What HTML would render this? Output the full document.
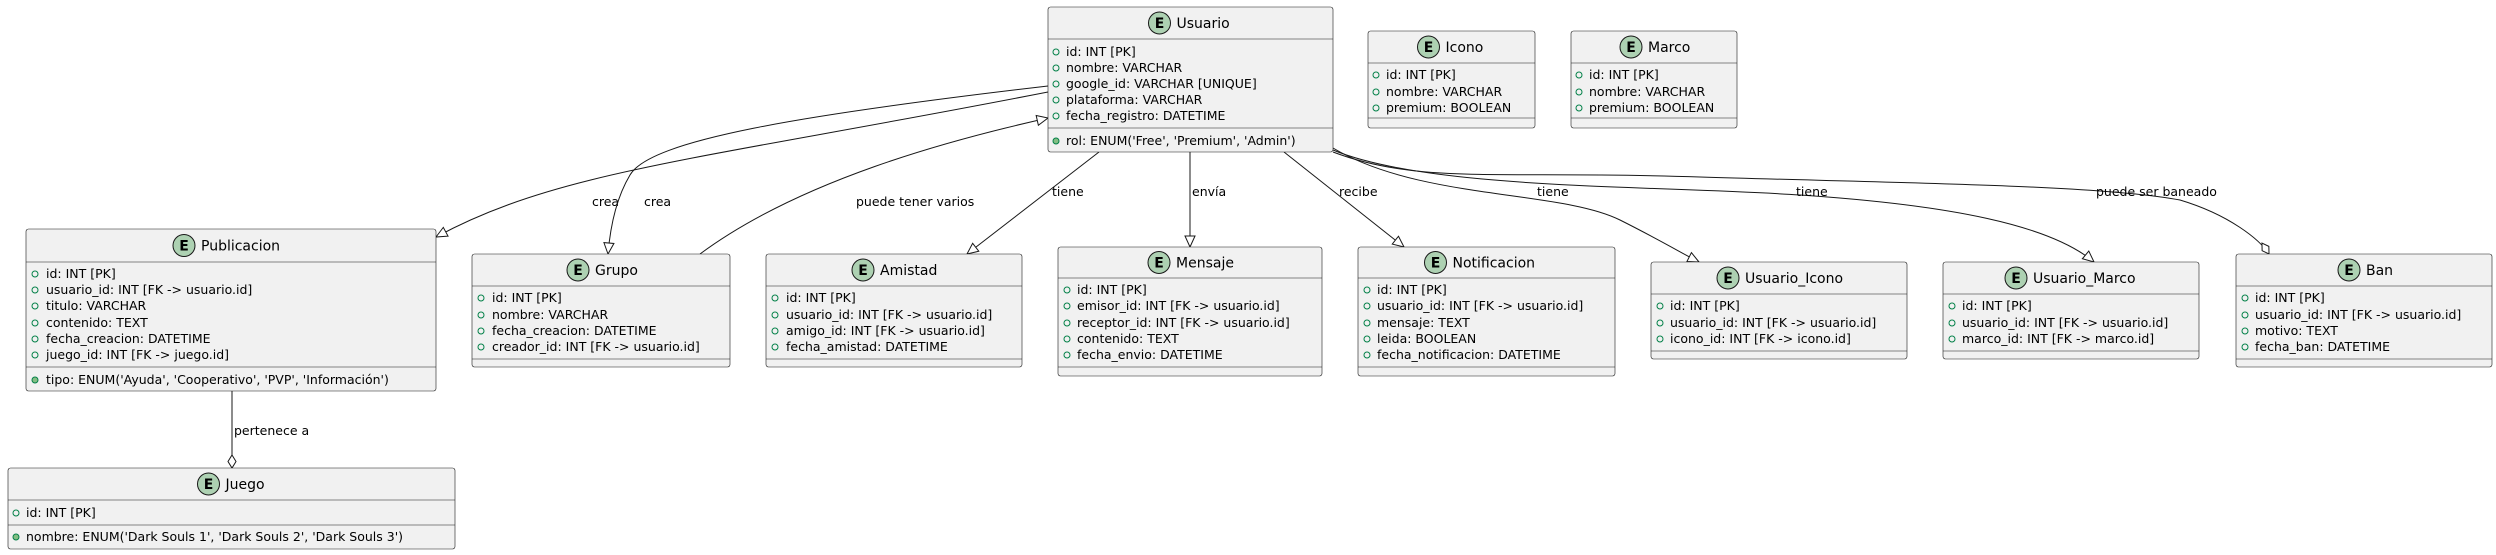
<!DOCTYPE html>
<html><head><meta charset="utf-8"><style>
html,body{margin:0;padding:0;background:#fff;}
svg{display:block;font-family:"DejaVu Sans","Liberation Sans",sans-serif;}
.b{fill:#F1F1F1;stroke:#181818;stroke-width:0.6;}
.l{stroke:#181818;stroke-width:0.6;}
.t{font-size:14px;fill:#000;}
.a{font-size:12.5px;fill:#000;}
.e{fill:none;stroke:#181818;stroke-width:1;}
.lb{font-size:12.5px;fill:#000;}
.ic{fill:#ADD1B2;stroke:#181818;stroke-width:1;}
.ie{font-size:14px;font-weight:bold;fill:#000;text-anchor:middle;}
.v{fill:none;stroke:#038048;stroke-width:1;}
.m{fill:#84BE84;stroke:#038048;stroke-width:1;}
</style></head><body>
<svg width="2496" height="555" viewBox="0 0 2496 555" xmlns="http://www.w3.org/2000/svg">
<defs>
<marker id="tri" markerUnits="userSpaceOnUse" markerWidth="14" markerHeight="14" refX="12" refY="6" orient="auto">
<path d="M1,1 L12,6 L1,11 Z" fill="#fff" stroke="#181818" stroke-width="1"/></marker>
<marker id="dia" markerUnits="userSpaceOnUse" markerWidth="16" markerHeight="12" refX="14" refY="5" orient="auto">
<path d="M1,5 L7.5,1 L14,5 L7.5,9 Z" fill="#fff" stroke="#181818" stroke-width="1"/></marker>
</defs>

<!-- edges -->
<path class="e" d="M1048,92 C700,160 560,170 436,237" marker-end="url(#tri)"/>
<text class="lb" x="592" y="206">crea</text>
<path class="e" d="M1048,86 C800,115 650,140 630,175 C615,200 610,230 608,254" marker-end="url(#tri)"/>
<text class="lb" x="644" y="206">crea</text>
<path class="e" d="M700,254 C800,180 950,140 1048,118" marker-end="url(#tri)"/>
<text class="lb" x="856" y="206">puede tener varios</text>
<path class="e" d="M1099,152 L967,254" marker-end="url(#tri)"/>
<text class="lb" x="1052" y="196">tiene</text>
<path class="e" d="M1190,152 L1190,247" marker-end="url(#tri)"/>
<text class="lb" x="1192" y="196">envía</text>
<path class="e" d="M1284,152 L1404,247" marker-end="url(#tri)"/>
<text class="lb" x="1339" y="196">recibe</text>
<path class="e" d="M1333,148 C1420,200 1560,190 1620,220 C1660,240 1685,255 1699,262" marker-end="url(#tri)"/>
<text class="lb" x="1537" y="196">tiene</text>
<path class="e" d="M1333,150 C1430,190 1650,185 1800,195 C1950,205 2050,225 2094,262" marker-end="url(#tri)"/>
<text class="lb" x="1796" y="196">tiene</text>
<path class="e" d="M1333,152 C1420,185 1500,170 1700,177 C1900,183 2100,185 2180,200 C2230,215 2260,240 2269,254" marker-end="url(#dia)"/>
<text class="lb" x="2096" y="196">puede ser baneado</text>
<path class="e" d="M232,391 L232,468" marker-end="url(#dia)"/>
<text class="lb" x="234" y="435">pertenece a</text>

<!-- Usuario -->
<rect class="b" x="1048" y="7" width="285" height="145" rx="2.5"/>
<line class="l" x1="1048" y1="39" x2="1333" y2="39"/><line class="l" x1="1048" y1="128" x2="1333" y2="128"/>
<circle class="ic" cx="1159.5" cy="23" r="11"/><text class="ie" x="1159.5" y="28">E</text>
<text class="t" x="1176.5" y="28">Usuario</text>
<circle class="v" cx="1056" cy="52" r="3"/><text class="a" x="1066" y="56">id: INT [PK]</text>
<circle class="v" cx="1056" cy="68" r="3"/><text class="a" x="1066" y="72">nombre: VARCHAR</text>
<circle class="v" cx="1056" cy="84" r="3"/><text class="a" x="1066" y="88">google_id: VARCHAR [UNIQUE]</text>
<circle class="v" cx="1056" cy="100" r="3"/><text class="a" x="1066" y="104">plataforma: VARCHAR</text>
<circle class="v" cx="1056" cy="116" r="3"/><text class="a" x="1066" y="120">fecha_registro: DATETIME</text>
<circle class="m" cx="1056" cy="141" r="3"/><text class="a" x="1066" y="145">rol: ENUM('Free', 'Premium', 'Admin')</text>

<!-- Icono -->
<rect class="b" x="1368" y="31" width="167" height="97" rx="2.5"/>
<line class="l" x1="1368" y1="63" x2="1535" y2="63"/><line class="l" x1="1368" y1="118" x2="1535" y2="118"/>
<circle class="ic" cx="1428.5" cy="47" r="11"/><text class="ie" x="1428.5" y="52">E</text>
<text class="t" x="1445.5" y="52">Icono</text>
<circle class="v" cx="1376" cy="75" r="3"/><text class="a" x="1386" y="79">id: INT [PK]</text>
<circle class="v" cx="1376" cy="92" r="3"/><text class="a" x="1386" y="96">nombre: VARCHAR</text>
<circle class="v" cx="1376" cy="108" r="3"/><text class="a" x="1386" y="112">premium: BOOLEAN</text>

<!-- Marco -->
<rect class="b" x="1571" y="31" width="166" height="97" rx="2.5"/>
<line class="l" x1="1571" y1="63" x2="1737" y2="63"/><line class="l" x1="1571" y1="118" x2="1737" y2="118"/>
<circle class="ic" cx="1631" cy="47" r="11"/><text class="ie" x="1631" y="52">E</text>
<text class="t" x="1648" y="52">Marco</text>
<circle class="v" cx="1579" cy="75" r="3"/><text class="a" x="1589" y="79">id: INT [PK]</text>
<circle class="v" cx="1579" cy="92" r="3"/><text class="a" x="1589" y="96">nombre: VARCHAR</text>
<circle class="v" cx="1579" cy="108" r="3"/><text class="a" x="1589" y="112">premium: BOOLEAN</text>

<!-- Publicacion -->
<rect class="b" x="26" y="229" width="410" height="162" rx="2.5"/>
<line class="l" x1="26" y1="262" x2="436" y2="262"/><line class="l" x1="26" y1="367" x2="436" y2="367"/>
<circle class="ic" cx="184" cy="245.5" r="11"/><text class="ie" x="184" y="250.5">E</text>
<text class="t" x="201" y="250.5">Publicacion</text>
<circle class="v" cx="35" cy="274" r="3"/><text class="a" x="46" y="278">id: INT [PK]</text>
<circle class="v" cx="35" cy="290" r="3"/><text class="a" x="46" y="294">usuario_id: INT [FK -&gt; usuario.id]</text>
<circle class="v" cx="35" cy="306" r="3"/><text class="a" x="46" y="310">titulo: VARCHAR</text>
<circle class="v" cx="35" cy="323" r="3"/><text class="a" x="46" y="327">contenido: TEXT</text>
<circle class="v" cx="35" cy="339" r="3"/><text class="a" x="46" y="343">fecha_creacion: DATETIME</text>
<circle class="v" cx="35" cy="355" r="3"/><text class="a" x="46" y="359">juego_id: INT [FK -&gt; juego.id]</text>
<circle class="m" cx="35" cy="380" r="3"/><text class="a" x="46" y="384">tipo: ENUM('Ayuda', 'Cooperativo', 'PVP', 'Información')</text>

<!-- Grupo -->
<rect class="b" x="472" y="254" width="258" height="113" rx="2.5"/>
<line class="l" x1="472" y1="286" x2="730" y2="286"/><line class="l" x1="472" y1="359" x2="730" y2="359"/>
<circle class="ic" cx="578" cy="270" r="11"/><text class="ie" x="578" y="275">E</text>
<text class="t" x="595" y="275">Grupo</text>
<circle class="v" cx="481" cy="298" r="3"/><text class="a" x="492" y="302">id: INT [PK]</text>
<circle class="v" cx="481" cy="315" r="3"/><text class="a" x="492" y="319">nombre: VARCHAR</text>
<circle class="v" cx="481" cy="331" r="3"/><text class="a" x="492" y="335">fecha_creacion: DATETIME</text>
<circle class="v" cx="481" cy="347" r="3"/><text class="a" x="492" y="351">creador_id: INT [FK -&gt; usuario.id]</text>

<!-- Amistad -->
<rect class="b" x="766" y="254" width="256" height="113" rx="2.5"/>
<line class="l" x1="766" y1="286" x2="1022" y2="286"/><line class="l" x1="766" y1="359" x2="1022" y2="359"/>
<circle class="ic" cx="863" cy="270" r="11"/><text class="ie" x="863" y="275">E</text>
<text class="t" x="880" y="275">Amistad</text>
<circle class="v" cx="775" cy="298" r="3"/><text class="a" x="786" y="302">id: INT [PK]</text>
<circle class="v" cx="775" cy="315" r="3"/><text class="a" x="786" y="319">usuario_id: INT [FK -&gt; usuario.id]</text>
<circle class="v" cx="775" cy="331" r="3"/><text class="a" x="786" y="335">amigo_id: INT [FK -&gt; usuario.id]</text>
<circle class="v" cx="775" cy="347" r="3"/><text class="a" x="786" y="351">fecha_amistad: DATETIME</text>

<!-- Mensaje -->
<rect class="b" x="1058" y="247" width="264" height="129" rx="2.5"/>
<line class="l" x1="1058" y1="278" x2="1322" y2="278"/><line class="l" x1="1058" y1="367" x2="1322" y2="367"/>
<circle class="ic" cx="1159" cy="262.5" r="11"/><text class="ie" x="1159" y="267.5">E</text>
<text class="t" x="1176" y="267.5">Mensaje</text>
<circle class="v" cx="1067" cy="290" r="3"/><text class="a" x="1077" y="294">id: INT [PK]</text>
<circle class="v" cx="1067" cy="306" r="3"/><text class="a" x="1077" y="310">emisor_id: INT [FK -&gt; usuario.id]</text>
<circle class="v" cx="1067" cy="323" r="3"/><text class="a" x="1077" y="327">receptor_id: INT [FK -&gt; usuario.id]</text>
<circle class="v" cx="1067" cy="339" r="3"/><text class="a" x="1077" y="343">contenido: TEXT</text>
<circle class="v" cx="1067" cy="355" r="3"/><text class="a" x="1077" y="359">fecha_envio: DATETIME</text>

<!-- Notificacion -->
<rect class="b" x="1358" y="247" width="257" height="129" rx="2.5"/>
<line class="l" x1="1358" y1="278" x2="1615" y2="278"/><line class="l" x1="1358" y1="367" x2="1615" y2="367"/>
<circle class="ic" cx="1435.5" cy="262.5" r="11"/><text class="ie" x="1435.5" y="267.5">E</text>
<text class="t" x="1452.5" y="267.5">Notificacion</text>
<circle class="v" cx="1367" cy="290" r="3"/><text class="a" x="1377" y="294">id: INT [PK]</text>
<circle class="v" cx="1367" cy="306" r="3"/><text class="a" x="1377" y="310">usuario_id: INT [FK -&gt; usuario.id]</text>
<circle class="v" cx="1367" cy="323" r="3"/><text class="a" x="1377" y="327">mensaje: TEXT</text>
<circle class="v" cx="1367" cy="339" r="3"/><text class="a" x="1377" y="343">leida: BOOLEAN</text>
<circle class="v" cx="1367" cy="355" r="3"/><text class="a" x="1377" y="359">fecha_notificacion: DATETIME</text>

<!-- Usuario_Icono -->
<rect class="b" x="1651" y="262" width="256" height="97" rx="2.5"/>
<line class="l" x1="1651" y1="294" x2="1907" y2="294"/><line class="l" x1="1651" y1="351" x2="1907" y2="351"/>
<circle class="ic" cx="1728" cy="278" r="11"/><text class="ie" x="1728" y="283">E</text>
<text class="t" x="1745" y="283">Usuario_Icono</text>
<circle class="v" cx="1660" cy="306" r="3"/><text class="a" x="1670" y="310">id: INT [PK]</text>
<circle class="v" cx="1660" cy="323" r="3"/><text class="a" x="1670" y="327">usuario_id: INT [FK -&gt; usuario.id]</text>
<circle class="v" cx="1660" cy="339" r="3"/><text class="a" x="1670" y="343">icono_id: INT [FK -&gt; icono.id]</text>

<!-- Usuario_Marco -->
<rect class="b" x="1943" y="262" width="256" height="97" rx="2.5"/>
<line class="l" x1="1943" y1="294" x2="2199" y2="294"/><line class="l" x1="1943" y1="351" x2="2199" y2="351"/>
<circle class="ic" cx="2016" cy="278" r="11"/><text class="ie" x="2016" y="283">E</text>
<text class="t" x="2033" y="283">Usuario_Marco</text>
<circle class="v" cx="1952" cy="306" r="3"/><text class="a" x="1962" y="310">id: INT [PK]</text>
<circle class="v" cx="1952" cy="323" r="3"/><text class="a" x="1962" y="327">usuario_id: INT [FK -&gt; usuario.id]</text>
<circle class="v" cx="1952" cy="339" r="3"/><text class="a" x="1962" y="343">marco_id: INT [FK -&gt; marco.id]</text>

<!-- Ban -->
<rect class="b" x="2236" y="254" width="256" height="113" rx="2.5"/>
<line class="l" x1="2236" y1="286" x2="2492" y2="286"/><line class="l" x1="2236" y1="359" x2="2492" y2="359"/>
<circle class="ic" cx="2349" cy="270" r="11"/><text class="ie" x="2349" y="275">E</text>
<text class="t" x="2366" y="275">Ban</text>
<circle class="v" cx="2245" cy="298" r="3"/><text class="a" x="2255" y="302">id: INT [PK]</text>
<circle class="v" cx="2245" cy="315" r="3"/><text class="a" x="2255" y="319">usuario_id: INT [FK -&gt; usuario.id]</text>
<circle class="v" cx="2245" cy="331" r="3"/><text class="a" x="2255" y="335">motivo: TEXT</text>
<circle class="v" cx="2245" cy="347" r="3"/><text class="a" x="2255" y="351">fecha_ban: DATETIME</text>

<!-- Juego -->
<rect class="b" x="8" y="468" width="447" height="81" rx="2.5"/>
<line class="l" x1="8" y1="500" x2="455" y2="500"/><line class="l" x1="8" y1="525" x2="455" y2="525"/>
<circle class="ic" cx="208.5" cy="484" r="11"/><text class="ie" x="208.5" y="489">E</text>
<text class="t" x="225.5" y="489">Juego</text>
<circle class="v" cx="16" cy="513" r="3"/><text class="a" x="26" y="517">id: INT [PK]</text>
<circle class="m" cx="16" cy="537" r="3"/><text class="a" x="26" y="541">nombre: ENUM('Dark Souls 1', 'Dark Souls 2', 'Dark Souls 3')</text>
</svg>
</body></html>
